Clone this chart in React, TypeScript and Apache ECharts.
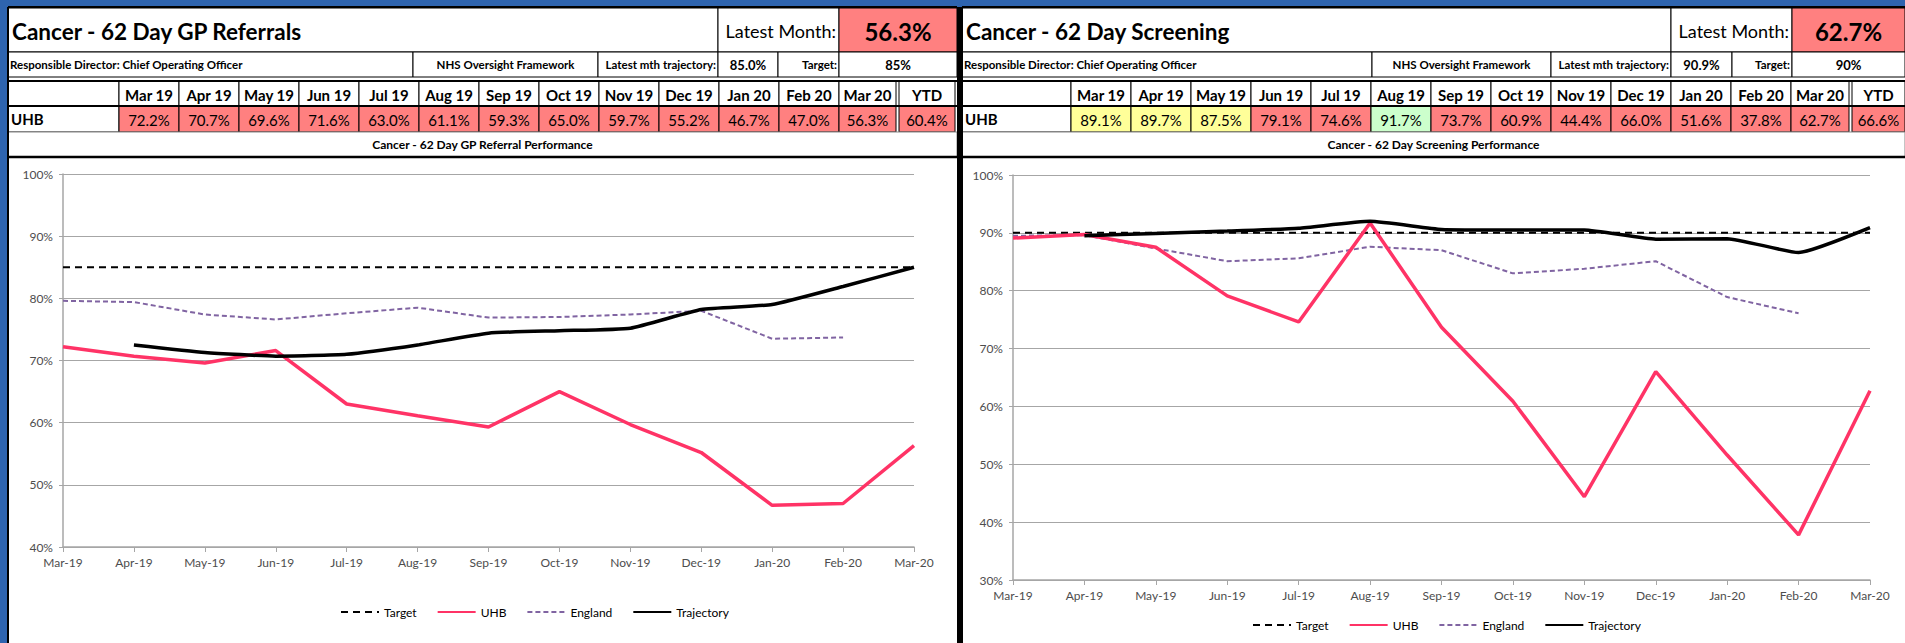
import React, { useEffect, useRef } from "react";
import * as echarts from "echarts";

// ---------- DATA ----------
const months = ["Mar-19","Apr-19","May-19","Jun-19","Jul-19","Aug-19","Sep-19","Oct-19","Nov-19","Dec-19","Jan-20","Feb-20","Mar-20"];
const tableMonths = ["Mar 19","Apr 19","May 19","Jun 19","Jul 19","Aug 19","Sep 19","Oct 19","Nov 19","Dec 19","Jan 20","Feb 20","Mar 20"];

const gpTarget = 85;
const gpUHB = [72.2, 70.7, 69.6, 71.6, 63.0, 61.1, 59.3, 65.0, 59.7, 55.2, 46.7, 47.0, 56.3];
const gpEngland = [79.6, 79.4, 77.4, 76.6, 77.6, 78.5, 76.9, 77.0, 77.4, 78.0, 73.5, 73.7, null];
const gpTrajectory = [null, 72.5, 71.3, 70.7, 71.0, 72.5, 74.4, 74.8, 75.2, 78.2, 79.0, 81.9, 85.0];
const gpYTD = 60.4;
const gpLatest = 56.3;
const gpLatestTraj = 85.0;

const scTarget = 90;
const scUHB = [89.1, 89.7, 87.5, 79.1, 74.6, 91.7, 73.7, 60.9, 44.4, 66.0, 51.6, 37.8, 62.7];
const scEngland = [89.5, 89.6, 87.3, 85.1, 85.6, 87.6, 87.0, 83.0, 83.8, 85.1, 78.9, 76.1, null];
const scTrajectory = [null, 89.5, 89.9, 90.3, 90.8, 92.0, 90.6, 90.5, 90.5, 88.9, 89.0, 86.6, 90.9];
const scYTD = 66.6;
const scLatest = 62.7;
const scLatestTraj = 90.9;

const legendNames = ["Target", "UHB", "England", "Trajectory"];

// ---------- STYLE ----------
const FONT = 'Lato,Carlito,Calibri,"Open Sans",sans-serif';
const BLUE = "#2E64AF";
const PINK = "#FF8080";
const YELLOW = "#FFFF99";
const GREEN = "#CCFFCC";
const UHB_COLOR = "#FF3366";
const ENG_COLOR = "#8064A2";
const GRID_COLOR = "#A6A6A6";

function rag(v: number, target: number) {
  if (v >= target) return GREEN;
  if (v >= target * 0.95) return YELLOW;
  return PINK;
}

function rect(x: number, y: number, w: number, h: number, fill: string, stroke: string | null = "#000", lw = 1, z = 1) {
  return {
    type: "rect",
    z,
    shape: { x, y, width: w, height: h },
    style: { fill, stroke: stroke || "none", lineWidth: stroke ? lw : 0 },
  };
}
function txt(x: number, y: number, text: string, size: number, weight: string, align: string, color = "#000") {
  return {
    type: "text",
    z: 5,
    x,
    y,
    style: {
      text,
      fontSize: size,
      fontWeight: weight,
      fontFamily: FONT,
      fill: color,
      textAlign: align,
      textVerticalAlign: "middle",
    },
  };
}
function hline(x1: number, x2: number, y: number, lw = 1, color = "#000") {
  return { type: "line", z: 4, shape: { x1, y1: y, x2, y2: y }, style: { stroke: color, lineWidth: lw } };
}
function vline(x: number, y1: number, y2: number, lw = 1, color = "#000") {
  return { type: "line", z: 4, shape: { x1: x, y1, x2: x, y2 }, style: { stroke: color, lineWidth: lw } };
}

interface PanelCfg {
  x0: number; x1: number;
  title: string; latest: number; latestTraj: number; target: number;
  r1: number[]; r2: number[]; colStart: number; ytdStart: number;
  values: number[]; ytd: number; chartTitle: string;
}

function panel(p: PanelCfg) {
  const els: any[] = [];
  const Y0 = 8, Y1 = 52, Y2 = 77, Y3 = 81, Y4 = 106, Y5 = 132, Y6 = 157;
  // row 1
  els.push(rect(p.x0, Y0, p.r1[0] - p.x0, Y1 - Y0, "#fff"));
  els.push(rect(p.r1[0], Y0, p.r1[1] - p.r1[0], Y1 - Y0, "#fff"));
  els.push(rect(p.r1[1], Y0, p.x1 - p.r1[1], Y1 - Y0, PINK));
  els.push(txt(p.x0 + 4, (Y0 + Y1) / 2 + 1, p.title, 22.5, "bold", "left"));
  els.push(txt(p.r1[1] - 3, (Y0 + Y1) / 2 + 1, "Latest Month:", 18, "normal", "right"));
  els.push(txt((p.r1[1] + p.x1) / 2, (Y0 + Y1) / 2 + 1, p.latest.toFixed(1) + "%", 24, "bold", "center"));
  // row 2
  const r2 = [p.x0, ...p.r2, p.x1];
  for (let i = 0; i < r2.length - 1; i++) els.push(rect(r2[i], Y1, r2[i + 1] - r2[i], Y2 - Y1, "#fff"));
  const cy2 = (Y1 + Y2) / 2;
  els.push(txt(p.x0 + 2, cy2, "Responsible Director: Chief Operating Officer", 11.5, "bold", "left"));
  els.push(txt((r2[1] + r2[2]) / 2, cy2, "NHS Oversight Framework", 11.5, "bold", "center"));
  els.push(txt(r2[3] - 2, cy2, "Latest mth trajectory:", 11.5, "bold", "right"));
  els.push(txt((r2[3] + r2[4]) / 2, cy2, p.latestTraj.toFixed(1) + "%", 13, "bold", "center"));
  els.push(txt(r2[5] - 2, cy2, "Target:", 11.5, "bold", "right"));
  els.push(txt((r2[5] + r2[6]) / 2, cy2, p.target + "%", 13, "bold", "center"));
  // rows 3/4 (month table)
  els.push(rect(p.x0, Y3, p.colStart - p.x0, Y4 - Y3, "#fff"));
  els.push(rect(p.x0, Y4, p.colStart - p.x0, Y5 - Y4, "#fff"));
  els.push(txt(p.x0 + 3, (Y4 + Y5) / 2, "UHB", 15, "bold", "left"));
  for (let i = 0; i < tableMonths.length; i++) {
    const x = p.colStart + i * 60;
    const w = i === tableMonths.length - 1 ? p.ytdStart - 3 - x : 60;
    els.push(rect(x, Y3, w, Y4 - Y3, "#fff"));
    els.push(txt(x + w / 2, (Y3 + Y4) / 2 + 1, tableMonths[i], 15, "bold", "center"));
    els.push(rect(x, Y4, w, Y5 - Y4, rag(p.values[i], p.target)));
    els.push(txt(x + w / 2, (Y4 + Y5) / 2 + 1, p.values[i].toFixed(1) + "%", 15, "normal", "center"));
  }
  const ytdW = p.x1 - p.ytdStart - (p.x1 > 1900 ? 0 : 2);
  els.push(rect(p.ytdStart, Y3, ytdW, Y4 - Y3, "#fff"));
  els.push(txt(p.ytdStart + ytdW / 2, (Y3 + Y4) / 2 + 1, "YTD", 15, "bold", "center"));
  els.push(rect(p.ytdStart, Y4, ytdW, Y5 - Y4, rag(p.ytd, p.target)));
  els.push(txt(p.ytdStart + ytdW / 2, (Y4 + Y5) / 2 + 1, p.ytd.toFixed(1) + "%", 15, "normal", "center"));
  els.push(hline(p.x0, p.x1, Y3, 2));
  els.push(hline(p.x0, p.x1, Y4, 2));
  // row 5 chart title
  els.push(rect(p.x0, Y5, p.x1 - p.x0, Y6 - Y5, "#fff", "#888", 1));
  els.push(txt((p.x0 + p.x1) / 2, (Y5 + Y6) / 2, p.chartTitle, 12, "bold", "center"));
  els.push(hline(p.x0, p.x1, Y6, 2.5));
  // outer border
  els.push(vline(p.x0, 7, 643, 2));
  els.push(hline(p.x0, p.x1, 7, 2));
  return els;
}

function buildOption() {
  const graphic: any[] = [];
  graphic.push(rect(0, 0, 1905, 643, BLUE, null, 0, -20));
  graphic.push(rect(7, 7, 950, 636, "#fff", null, 0, -10));
  graphic.push(rect(962, 7, 943, 636, "#fff", null, 0, -10));
  graphic.push(
    ...panel({
      x0: 8, x1: 957, title: "Cancer - 62 Day GP Referrals", latest: gpLatest, latestTraj: gpLatestTraj,
      target: gpTarget, r1: [718, 839], r2: [413, 598, 718, 778, 839], colStart: 119, ytdStart: 899,
      values: gpUHB, ytd: gpYTD, chartTitle: "Cancer - 62 Day GP Referral Performance",
    })
  );
  graphic.push(
    ...panel({
      x0: 962, x1: 1905, title: "Cancer - 62 Day Screening", latest: scLatest, latestTraj: scLatestTraj,
      target: scTarget, r1: [1671, 1792], r2: [1372, 1551, 1671, 1732, 1792], colStart: 1071, ytdStart: 1852,
      values: scUHB, ytd: scYTD, chartTitle: "Cancer - 62 Day Screening Performance",
    })
  );
  graphic.push(rect(957, 7, 5, 636, "#000", null, 0, 6));

  const axisText = { color: "#4D4D4D", fontSize: 12, fontFamily: FONT };
  const xAxisBase = (gi: number) => ({
    gridIndex: gi,
    type: "category",
    data: months,
    boundaryGap: false,
    axisLine: { lineStyle: { color: GRID_COLOR, width: 1.5 } },
    axisTick: { show: true, length: 5, lineStyle: { color: GRID_COLOR } },
    axisLabel: { ...axisText, margin: 9, interval: 0 },
    splitLine: { show: false },
  });
  const yAxisBase = (gi: number, min: number) => ({
    gridIndex: gi,
    type: "value",
    min,
    max: 100,
    interval: 10,
    axisLine: { show: true, lineStyle: { color: GRID_COLOR, width: 1.5 } },
    axisTick: { show: true, length: 4, lineStyle: { color: GRID_COLOR } },
    axisLabel: { ...axisText, margin: 10, formatter: "{value}%" },
    splitLine: { show: true, lineStyle: { color: GRID_COLOR, width: 1.2 } },
  });

  const seriesFor = (gi: number, target: number, uhb: any[], eng: any[], traj: any[]) => [
    {
      name: "Target", type: "line", xAxisIndex: gi, yAxisIndex: gi, symbol: "none",
      data: months.map(() => target),
      lineStyle: { color: "#000", width: 2, type: [7, 5] }, itemStyle: { color: "#000" }, z: 3,
    },
    {
      name: "UHB", type: "line", xAxisIndex: gi, yAxisIndex: gi, symbol: "none", data: uhb,
      lineStyle: { color: UHB_COLOR, width: 3.5 }, itemStyle: { color: UHB_COLOR }, z: 4,
    },
    {
      name: "England", type: "line", xAxisIndex: gi, yAxisIndex: gi, symbol: "none", data: eng,
      lineStyle: { color: ENG_COLOR, width: 2, type: [5, 3] }, itemStyle: { color: ENG_COLOR }, z: 3,
    },
    {
      name: "Trajectory", type: "line", xAxisIndex: gi, yAxisIndex: gi, symbol: "none", data: traj,
      smooth: 0.15, lineStyle: { color: "#000", width: 3.5 }, itemStyle: { color: "#000" }, z: 5,
    },
  ];

  const legendBase = (left: number, top: number) => ({
    left, top, orient: "horizontal", data: legendNames,
    itemWidth: 38, itemHeight: 12, itemGap: 20, selectedMode: false,
    itemStyle: { opacity: 0 },
    textStyle: { color: "#000", fontSize: 12, fontFamily: FONT },
  });

  return {
    animation: false,
    graphic,
    grid: [
      { left: 63, top: 174, width: 851, height: 373 },
      { left: 1013, top: 175, width: 857, height: 405 },
    ],
    xAxis: [xAxisBase(0), xAxisBase(1)],
    yAxis: [yAxisBase(0, 40), yAxisBase(1, 30)],
    legend: [legendBase(335, 601), legendBase(1247, 614)],
    series: [
      ...seriesFor(0, gpTarget, gpUHB, gpEngland, gpTrajectory),
      ...seriesFor(1, scTarget, scUHB, scEngland, scTrajectory),
    ],
  };
}

export default function App() {
  const ref = useRef<HTMLDivElement>(null);
  useEffect(() => {
    if (!ref.current) return;
    const chart = echarts.init(ref.current, undefined, { renderer: "svg" });
    chart.setOption(buildOption() as any);
    return () => chart.dispose();
  }, []);
  return (
    <div
      ref={ref}
      style={{ position: "fixed", left: 0, top: 0, width: 1905, height: 643, background: BLUE }}
    />
  );
}
